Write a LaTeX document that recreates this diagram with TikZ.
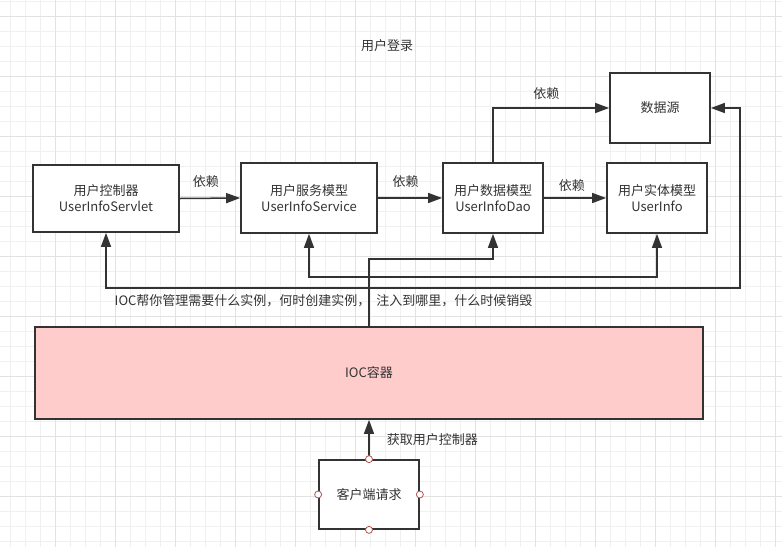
\documentclass[tikz,border=0pt]{standalone}
\usepackage{fontspec}
\setmainfont{Noto Sans CJK SC}
\usetikzlibrary{arrows.meta}
\definecolor{inkc}{HTML}{333333}
\definecolor{txtc}{HTML}{333333}
\definecolor{gridminor}{HTML}{F0F0F0}
\definecolor{gridmajor}{HTML}{E2E2E2}
\definecolor{iocfill}{HTML}{FFCCCC}
\definecolor{ptc}{HTML}{B85450}
\tikzset{
  boxnode/.style={draw=inkc, line width=1.7pt, fill=white, inner sep=0pt, align=center,
    text=txtc, font=\fontsize{13pt}{16pt}\selectfont},
  lbl/.style={text=txtc, font=\fontsize{13pt}{16pt}\selectfont, inner sep=0pt},
  arr/.style={draw=inkc, line width=1.5pt, -{Triangle[length=14pt,width=10pt]}},
  cpoint/.style={circle, draw=ptc, fill=white, line width=0.8pt, minimum size=7pt, inner sep=0pt},
  gminor/.style={draw=gridminor, line width=0.8pt},
  gmajor/.style={draw=gridmajor, line width=0.9pt}
}
\begin{document}
\begin{tikzpicture}[x=1pt,y=-1pt]
\useasboundingbox (0,0) rectangle (782,547);
\fill[white] (0,0) rectangle (782,547);
% grid
\foreach \gx in {10.5,25.5,...,782} \draw[gminor] (\gx,0) -- (\gx,547);
\foreach \gy in {1,16,...,547} \draw[gminor] (0,\gy) -- (782,\gy);
\foreach \gx in {55.5,115.5,...,782} \draw[gmajor] (\gx,0) -- (\gx,547);
\foreach \gy in {16,76,...,547} \draw[gmajor] (0,\gy) -- (782,\gy);

% title
\node[lbl] (title) at (387,46) {用户登录};

% boxes
\node[boxnode, minimum width=146pt, minimum height=67pt] (servlet) at (106,198.5) {用户控制器\\UserInfoServlet};
\node[boxnode, minimum width=136pt, minimum height=70pt] (service) at (309,198) {用户服务模型\\UserInfoService};
\node[boxnode, minimum width=100pt, minimum height=70pt] (dao) at (493,198) {用户数据模型\\UserInfoDao};
\node[boxnode, minimum width=100pt, minimum height=70pt] (entity) at (657,198) {用户实体模型\\UserInfo};
\node[boxnode, minimum width=100pt, minimum height=70pt] (ds) at (660,108) {数据源};
\node[boxnode, fill=iocfill, minimum width=668pt, minimum height=92pt] (ioc) at (369,373) {IOC容器};
\node[boxnode, minimum width=100pt, minimum height=69pt] (client) at (369,494.5) {客户端请求};

% bend helpers
\coordinate (hA) at (0,259);
\coordinate (hB) at (0,277);
\coordinate (hC) at (0,288);
\coordinate (vR) at (740,0);
\coordinate (hD) at (0,108);

% dependency arrows
\draw[arr] (servlet.east) -- node[lbl, pos=0.43, above=10pt] {依赖} (service.west);
\draw[arr] (service.east) -- node[lbl, pos=0.43, above=10pt] {依赖} (dao.west);
\draw[arr] (dao.east) -- node[lbl, pos=0.45, above=6pt] {依赖} (entity.west);
\draw[arr] (dao.north) |- node[lbl, pos=0.73, above=8pt] {依赖} (ds.west);

% IOC injections
\draw[arr] (ioc.north) -- (ioc.north |- hA) -| (dao.south);
\draw[arr] (ioc.north) -- (ioc.north |- hB) -| (service.south);
\draw[arr] (ioc.north) -- (ioc.north |- hB) -| (entity.south);
\draw[arr] (ioc.north) -- (ioc.north |- hC) -| (servlet.south);
\draw[arr] (ioc.north) |- (vR |- hC) |- (ds.east);

\node[lbl] (note) at (323.5,301) {IOC帮你管理需要什么实例，何时创建实例，\ \ 注入到哪里，什么时候销毁};

% client request
\draw[arr] (client.north) -- node[lbl, pos=0.5, right=17pt] {获取用户控制器} (ioc.south);
\node[cpoint] (cpn) at (client.north) {};
\node[cpoint] (cps) at (client.south) {};
\node[cpoint] (cpw) at (client.west) {};
\node[cpoint] (cpe) at (client.east) {};
\end{tikzpicture}
\end{document}
